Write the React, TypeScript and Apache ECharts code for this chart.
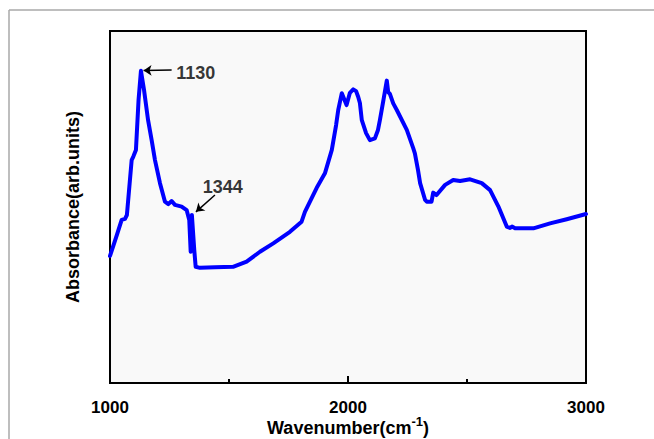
import React, { useEffect, useRef } from "react";
import * as echarts from "echarts";

const wavenumbers = [
  1000, 1029, 1049, 1063, 1071, 1091, 1098, 1109, 1120, 1130, 1143, 1160, 1175, 1189, 1210, 1231, 1245,
  1259, 1273, 1301, 1322, 1333, 1339, 1344, 1354, 1360, 1378, 1441, 1517, 1574, 1630, 1686, 1756, 1805,
  1819, 1868, 1903, 1932, 1950, 1959, 1974, 1994, 2008, 2022, 2034, 2043, 2050, 2058, 2076, 2092, 2113,
  2126, 2134, 2149, 2163, 2169, 2176, 2190, 2205, 2247, 2274, 2281, 2294, 2303, 2324, 2331, 2351, 2358,
  2372, 2408, 2442, 2471, 2513, 2562, 2597, 2632, 2667, 2681, 2689, 2702, 2779, 2849, 2919, 3000,
];
const absorbance = [
  0.363, 0.423, 0.466, 0.469, 0.48, 0.637, 0.647, 0.666, 0.809, 0.892, 0.837, 0.751, 0.694, 0.637, 0.571,
  0.518, 0.511, 0.52, 0.509, 0.504, 0.494, 0.466, 0.375, 0.48, 0.38, 0.332, 0.329, 0.331, 0.332, 0.347,
  0.375, 0.399, 0.432, 0.461, 0.489, 0.557, 0.599, 0.666, 0.737, 0.78, 0.828, 0.794, 0.829, 0.839, 0.834,
  0.817, 0.8, 0.751, 0.714, 0.694, 0.699, 0.723, 0.751, 0.809, 0.864, 0.831, 0.826, 0.799, 0.78, 0.723,
  0.671, 0.656, 0.609, 0.571, 0.523, 0.518, 0.518, 0.544, 0.537, 0.566, 0.58, 0.577, 0.582, 0.571, 0.551,
  0.504, 0.447, 0.443, 0.447, 0.442, 0.442, 0.456, 0.468, 0.483,
];

const xTickLabels = [1000, 2000, 3000];

// annotations: label text, label anchor, arrow start, arrow end
const annotationTexts = ["1130", "1344"];
const annotationLabelPos = [
  [1278, 0.887],
  [1390, 0.561],
];
const arrowStarts = [
  [1259, 0.894],
  [1441, 0.537],
];
const arrowEnds = [
  [1141, 0.893],
  [1361, 0.489],
];

const FONT = "Arial, 'Liberation Sans', sans-serif";

export default function App() {
  const ref = useRef<HTMLDivElement>(null);
  useEffect(() => {
    if (!ref.current) return;
    const chart = echarts.init(ref.current, undefined, { renderer: "svg", width: 654, height: 439 });
    const lineData = wavenumbers.map((w, i) => [w, absorbance[i]]);
    chart.setOption({
      animation: false,
      backgroundColor: "#ffffff",
      graphic: [
        {
          type: "line",
          shape: { x1: 9, y1: 10, x2: 654, y2: 10 },
          style: { stroke: "#a8a8a8", lineWidth: 1.5 },
        },
        {
          type: "line",
          shape: { x1: 9, y1: 10, x2: 9, y2: 439 },
          style: { stroke: "#a8a8a8", lineWidth: 1.5 },
        },
      ],
      grid: {
        left: 110,
        top: 31,
        width: 476,
        height: 352,
        outerBoundsMode: "none",
        containLabel: false,
        show: true,
        backgroundColor: "#f9f9f9",
        borderColor: "#000",
        borderWidth: 2,
      },
      xAxis: {
        type: "value",
        min: 1000,
        max: 3000,
        interval: 1000,
        axisLine: { show: true, lineStyle: { color: "#000", width: 2 } },
        axisTick: { show: true, inside: true, length: 7, lineStyle: { color: "#000", width: 2 } },
        minorTick: { show: true, splitNumber: 2, length: 4, lineStyle: { color: "#000", width: 2 } },
        splitLine: { show: false },
        axisLabel: {
          margin: 16,
          fontSize: 17,
          fontWeight: "bold",
          fontFamily: FONT,
          color: "#000",
          formatter: (v: number) => (xTickLabels.includes(v) ? String(v) : ""),
        },
        name: "{a|Wavenumber(cm}{s|-1}{a|)}",
        nameLocation: "middle",
        nameGap: 32,
        nameMoveOverlap: false,
        nameTextStyle: {
          rich: {
            a: { fontSize: 18, fontWeight: "bold", fontFamily: FONT, color: "#000", verticalAlign: "bottom" },
            s: {
              fontSize: 13,
              fontWeight: "bold",
              fontFamily: FONT,
              color: "#000",
              verticalAlign: "bottom",
              padding: [0, 0, 9, 0],
            },
          },
        },
      },
      yAxis: {
        type: "value",
        min: 0,
        max: 352 / 350,
        axisLine: { show: true, lineStyle: { color: "#000", width: 2 } },
        axisTick: { show: false },
        axisLabel: { show: false },
        splitLine: { show: false },
        name: "Absorbance(arb.units)",
        nameLocation: "middle",
        nameGap: 28,
        nameMoveOverlap: false,
        nameTextStyle: { fontSize: 18, fontWeight: "bold", fontFamily: FONT, color: "#000" },
      },
      series: [
        {
          type: "line",
          data: lineData,
          showSymbol: false,
          symbol: "none",
          lineStyle: { color: "#0000ff", width: 4, join: "round", cap: "round" },
          z: 3,
          markLine: {
            silent: true,
            symbol: ["none", "arrow"],
            symbolSize: 8,
            label: { show: false },
            lineStyle: { color: "#000", width: 1.5, type: "solid" },
            data: arrowStarts.map((s, i) => [{ coord: s }, { coord: arrowEnds[i] }]),
          },
        },
        {
          type: "scatter",
          symbolSize: 0,
          silent: true,
          data: annotationTexts.map((t, i) => ({ name: t, value: annotationLabelPos[i] })),
          label: {
            show: true,
            position: "right",
            distance: 0,
            formatter: (p: any) => p.name,
            fontSize: 18,
            fontWeight: "bold",
            fontFamily: FONT,
            color: "#000",
          },
        },
      ],
    });
    return () => chart.dispose();
  }, []);
  return (
    <div
      ref={ref}
      style={{ position: "fixed", left: 0, top: 0, width: 654, height: 439 }}
    />
  );
}
